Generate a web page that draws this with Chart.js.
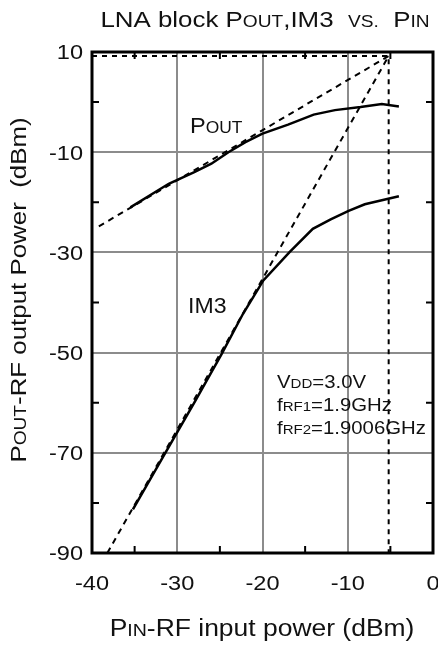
<!DOCTYPE html>
<html>
<head>
<meta charset="utf-8">
<title>LNA block Pout, IM3 vs. Pin</title>
<script src="https://cdn.jsdelivr.net/npm/chart.js@4.4.1/dist/chart.umd.min.js"></script>
<style>
    html, body { margin: 0; padding: 0; background: #ffffff; }
    #marco { width: 438px; height: 652px; }
</style>
</head>
<body>
<div id="marco"><canvas id="grafica" width="438" height="652"></canvas></div>
<script>
// measured curves (dBm)
const poutX = [-35.5, -31, -28, -26, -24, -22, -20, -17, -14, -11.5, -8.5, -6, -4];
const poutY = [-21, -16.3, -14, -12.3, -10, -8, -6.3, -4.5, -2.5, -1.6, -1.0, -0.4, -0.9];
const im3X = [-35.2, -31.6, -28, -24.8, -22.3, -19.9, -16.8, -14.1, -12, -9.9, -8, -4];
const im3Y = [-81.3, -70.6, -60, -50.3, -42.3, -35.6, -29.9, -25.3, -23.4, -21.7, -20.4, -18.8];

// extrapolated lines and the intercept point
const poutExtX = [-39.2, -5.2];
const poutExtY = [-24.8, 9.2];
const im3ExtX = [-38.2, -5.2];
const im3ExtY = [-90, 9.2];
const ip3X = [-40, -5.2, -5.2];
const ip3Y = [9.2, 9.2, -90];

// ticks
const xTicks = [-40, -30, -20, -10, 0];
const yTicks = [10, -10, -30, -50, -70, -90];
const xMinor = [-35, -25, -15, -5];
const yMinor = [0, -20, -40, -60, -80];

const FUENTE = '"Liberation Sans", Arial, Helvetica, sans-serif';
const ESTIRA = 1.15;

function puntos(xs, ys) {
    return xs.map((x, i) => ({ x: x, y: ys[i] }));
}

// draws text made of pieces at different sizes (small caps)
function textoCompuesto(ctx, partes, x, y, opts) {
    const size = opts.size;
    const sx = opts.sx || ESTIRA;
    let ancho = 0;
    partes.forEach(([t, f]) => {
        ctx.font = `${size * f}px ${FUENTE}`;
        ancho += ctx.measureText(t).width;
    });
    ctx.save();
    ctx.translate(x, y);
    if (opts.rot) ctx.rotate(opts.rot);
    ctx.scale(sx, 1);
    let cx = 0;
    if (opts.align === "center") cx = -ancho / 2;
    if (opts.align === "right") cx = -ancho;
    ctx.textAlign = "left";
    ctx.textBaseline = "alphabetic";
    ctx.fillStyle = "#111111";
    partes.forEach(([t, f]) => {
        ctx.font = `${size * f}px ${FUENTE}`;
        ctx.fillText(t, cx, 0);
        cx += ctx.measureText(t).width;
    });
    ctx.restore();
}

const SC = 0.74;

const marcoYTextos = {
    id: "marcoYTextos",
    afterDraw(chart) {
        const ctx = chart.ctx;
        const a = chart.chartArea;
        const sx = chart.scales.x;
        const sy = chart.scales.y;

        // ticks pointing inward
        ctx.save();
        ctx.strokeStyle = "#000000";
        ctx.lineWidth = 2;
        ctx.beginPath();
        xMinor.forEach(v => {
            const px = sx.getPixelForValue(v);
            ctx.moveTo(px, a.bottom); ctx.lineTo(px, a.bottom - 7);
            ctx.moveTo(px, a.top); ctx.lineTo(px, a.top + 7);
        });
        yMinor.forEach(v => {
            const py = sy.getPixelForValue(v);
            ctx.moveTo(a.left, py); ctx.lineTo(a.left + 7, py);
            ctx.moveTo(a.right, py); ctx.lineTo(a.right - 7, py);
        });
        ctx.stroke();

        ctx.lineWidth = 3;
        ctx.strokeRect(a.left, a.top, a.right - a.left, a.bottom - a.top);
        ctx.restore();

        // tick labels
        const tam = 20.5;
        const medio = tam * 0.716 / 2;
        sx.ticks.forEach(t => {
            textoCompuesto(ctx, [[String(t.value), 1]], sx.getPixelForValue(t.value), 590, { size: tam, align: "center" });
        });
        sy.ticks.forEach(t => {
            textoCompuesto(ctx, [[String(t.value), 1]], 83, sy.getPixelForValue(t.value) + medio, { size: tam, align: "right" });
        });

        // titles
        textoCompuesto(ctx, [["LNA block P", 1], ["OUT", SC], [",IM3  ", 1], ["VS.", SC], ["  P", 1], ["IN", SC]],
            265, 27, { size: 22.5, align: "center" });
        textoCompuesto(ctx, [["P", 1], ["IN", SC], ["-RF input power (dBm)", 1]],
            262, 636, { size: 23, align: "center" });
        textoCompuesto(ctx, [["P", 1], ["OUT", SC], ["-RF output Power  (dBm)", 1]],
            26, 290, { size: 22.5, align: "center", rot: -Math.PI / 2 });

        // curve labels
        textoCompuesto(ctx, [["P", 1], ["OUT", SC]], 190, 133, { size: 22, sx: 1.07 });
        textoCompuesto(ctx, [["IM3", 1]], 188, 313, { size: 22, sx: 1.05 });

        // conditions
        textoCompuesto(ctx, [["V", 1], ["DD", SC], ["=3.0V", 1]], 277, 388, { size: 18.5, sx: 1.1 });
        textoCompuesto(ctx, [["f", 1], ["RF1", SC], ["=1.9GHz", 1]], 277, 411, { size: 18.5, sx: 1.1 });
        textoCompuesto(ctx, [["f", 1], ["RF2", SC], ["=1.9006GHz", 1]], 277, 434, { size: 18.5, sx: 1.1 });
    }
};

const solida = { borderColor: "#000000", borderWidth: 2.5, pointRadius: 0, tension: 0, fill: false };
const rayada = { borderColor: "#000000", borderWidth: 2, borderDash: [6, 5], pointRadius: 0, tension: 0, fill: false };

new Chart(document.getElementById("grafica"), {
    type: "line",
    data: {
        datasets: [
            { label: "Pout", data: puntos(poutX, poutY), ...solida },
            { label: "IM3", data: puntos(im3X, im3Y), ...solida },
            { label: "Pout ext", data: puntos(poutExtX, poutExtY), ...rayada },
            { label: "IM3 ext", data: puntos(im3ExtX, im3ExtY), ...rayada },
            { label: "IP3", data: puntos(ip3X, ip3Y), ...rayada, borderDash: [5, 5] }
        ]
    },
    options: {
        responsive: false,
        animation: false,
        layout: { padding: { top: 52, right: 5, left: 0, bottom: 0 } },
        plugins: {
            legend: { display: false },
            tooltip: { enabled: false },
            title: { display: false }
        },
        scales: {
            x: {
                type: "linear",
                min: -40,
                max: 0,
                afterBuildTicks: s => { s.ticks = xTicks.map(v => ({ value: v })); },
                afterFit: s => { s.height = 99; },
                ticks: { display: false },
                grid: { color: "#8c8c8c", lineWidth: 2, drawTicks: false },
                border: { display: false }
            },
            y: {
                type: "linear",
                min: -90,
                max: 10,
                afterBuildTicks: s => { s.ticks = yTicks.map(v => ({ value: v })); },
                afterFit: s => { s.width = 92; },
                ticks: { display: false },
                grid: { color: "#8c8c8c", lineWidth: 2, drawTicks: false },
                border: { display: false }
            }
        }
    },
    plugins: [marcoYTextos]
});
</script>
</body>
</html>
